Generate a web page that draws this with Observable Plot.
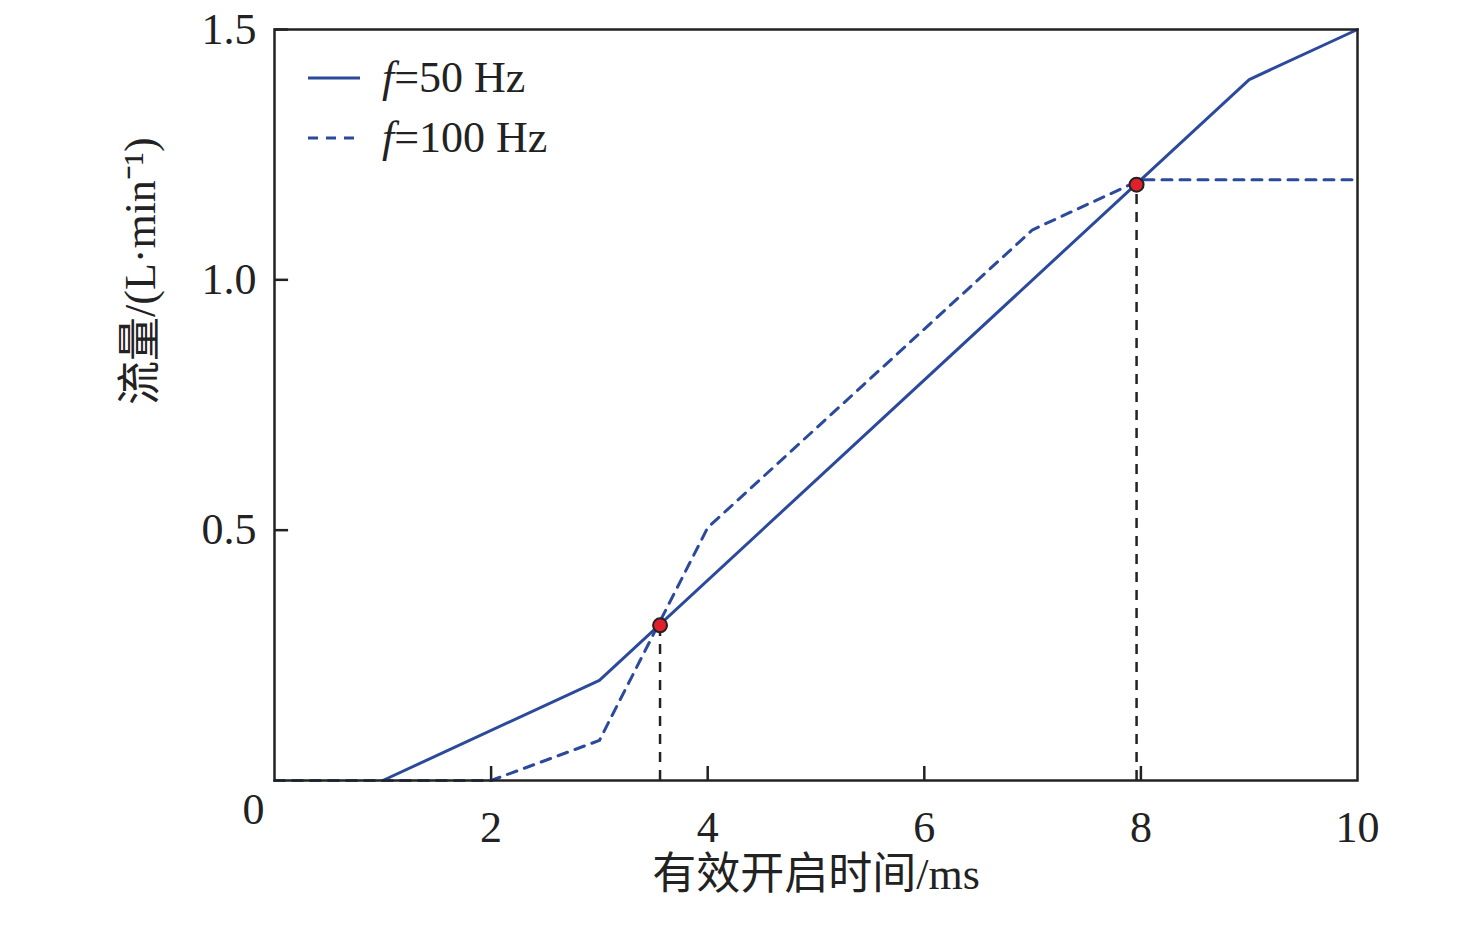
<!DOCTYPE html>
<html><head><meta charset="utf-8">
<script src="https://cdn.jsdelivr.net/npm/d3@7"></script>
<script src="https://cdn.jsdelivr.net/npm/@observablehq/plot@0.6"></script>
<style>
body{margin:0;background:#fff;font-family:"Liberation Serif","Noto Sans CJK SC",serif;}
#wrap{position:relative;width:1476px;height:933px;}
#legend{position:absolute;left:308px;top:48px;font-size:44px;color:#222;line-height:60px;z-index:2;}
#legend div{display:flex;align-items:center;}
#legend svg{margin-right:22px;}
</style></head><body>
<div id="wrap"><div id="legend">
<div><svg width="52" height="6"><line x1="0" y1="3" x2="52" y2="3" stroke="#2b4a9c" stroke-width="3"/></svg><span><i>f</i>=50 Hz</span></div>
<div><svg width="52" height="6"><line x1="0" y1="3" x2="52" y2="3" stroke="#2b4a9c" stroke-width="3" stroke-dasharray="10,8"/></svg><span><i>f</i>=100 Hz</span></div>
</div></div>
<script>
const x50 = [1, 3, 9, 10];
const y50 = [0, 0.2, 1.4, 1.5];
const x100 = [0, 2, 3, 4, 7, 8, 10];
const y100 = [0, 0, 0.08, 0.505, 1.1, 1.2, 1.2];
const crossX = [3.56, 7.96];
const crossY = [0.31, 1.19];
const xTicks = [2, 4, 6, 8, 10];
const yTicks = [0.5, 1.0, 1.5];
const color = "#2b4a9c";

const s50 = x50.map((x,i)=>({x, y:y50[i]}));
const s100 = x100.map((x,i)=>({x, y:y100[i]}));
const cross = crossX.map((x,i)=>({x, y:crossY[i]}));

const chart = Plot.plot({
  width:1476, height:933,
  marginLeft:274, marginRight:119, marginTop:29, marginBottom:153,
  style:{fontFamily:"Liberation Serif, serif", fontSize:"44px", color:"#222"},
  x:{type:"linear", domain:[0,10]}, y:{type:"linear", domain:[0,1.5]},
  marks:[
    Plot.axisX(xTicks,{tickSize:0, tickPadding:30, label:null, fontSize:44}),
    Plot.axisY(yTicks,{tickSize:0, tickPadding:18, label:null, fontSize:44, tickFormat:d3.format(".1f")}),
    Plot.ruleX(xTicks.slice(0,4),{y1:0, y2:0.028, stroke:"#222", strokeWidth:2.5}),
    Plot.ruleY(yTicks,{x1:0, x2:0.13, stroke:"#222", strokeWidth:2.5}),
    Plot.ruleX(cross,{x:"x", y1:0, y2:"y", stroke:"#222", strokeWidth:2.5, strokeDasharray:"10,8"}),
    Plot.line(s50,{x:"x", y:"y", stroke:color, strokeWidth:3}),
    Plot.line(s100,{x:"x", y:"y", stroke:color, strokeWidth:3, strokeDasharray:"10,8"}),
    Plot.dot(cross,{x:"x", y:"y", r:7, fill:"#e0202a", stroke:"#222", strokeWidth:2}),
    Plot.frame({stroke:"#222", strokeWidth:2.5}),
    Plot.text(["0"],{frameAnchor:"bottom-left", dx:-32, dy:43, fontSize:44}),
    Plot.text(["有效开启时间/ms"],{frameAnchor:"bottom", dy:108, fontSize:44, fontFamily:"Liberation Serif, Noto Sans CJK SC"}),
    Plot.text(["流量/(L·min⁻¹)"],{frameAnchor:"left", dx:-134, rotate:-90, fontSize:44, fontFamily:"Liberation Serif, Noto Sans CJK SC"})
  ]
});
document.getElementById("wrap").prepend(chart);
chart.style.position="absolute"; chart.style.left="0"; chart.style.top="0";
</script></body></html>
